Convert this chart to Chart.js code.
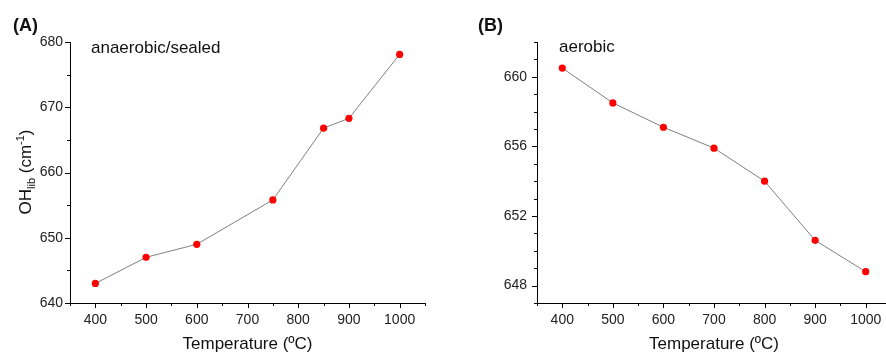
<!DOCTYPE html>
<html>
<head>
<meta charset="utf-8">
<script src="https://cdn.jsdelivr.net/npm/chart.js@4.4.1/dist/chart.umd.min.js"></script>
<style>
  html, body { margin: 0; padding: 0; overflow: hidden; background: #fff; width: 886px; height: 352px; }
  canvas { position: absolute; top: 0; }
  #chartA { left: 0; }
  #chartB { left: 450px; }
</style>
</head>
<body>
<canvas id="chartA" width="450" height="352"></canvas>
<canvas id="chartB" width="450" height="352"></canvas>
<script>
// values
const tempsA = [400, 500, 600, 750, 850, 900, 1000];
const ohA = [643.0, 647.0, 649.0, 655.8, 666.8, 668.3, 678.1];

const tempsB = [400, 500, 600, 700, 800, 900, 1000];
const ohB = [660.5, 658.5, 657.1, 655.9, 654.0, 650.6, 648.8];

const xTicks = [400, 500, 600, 700, 800, 900, 1000];
const yTicksA = [640, 650, 660, 670, 680];
const yTicksB = [648, 652, 656, 660];

const FONT = "'Liberation Sans', Arial, sans-serif";
Chart.defaults.font.family = FONT;
Chart.defaults.color = "#222";

function toPoints(xs, ys) {
  return xs.map((x, i) => ({ x: x, y: ys[i] }));
}

// outward major/minor tick marks, Origin style
const axisTicks = {
  id: "axisTicks",
  afterDraw(chart, args, opts) {
    const ctx = chart.ctx;
    const area = chart.chartArea;
    ctx.save();
    ctx.strokeStyle = "#000";
    ctx.lineWidth = 1;
    ctx.beginPath();
    ["x", "y"].forEach((id) => {
      const scale = chart.scales[id];
      const o = opts[id];
      for (let v = scale.min; v <= scale.max + 1e-9; v += o.step) {
        const len = Math.abs(v % o.major) < 1e-9 ? 5 : 3;
        const p = Math.round(scale.getPixelForValue(v)) + 0.5;
        if (id === "x") {
          ctx.moveTo(p, area.bottom);
          ctx.lineTo(p, area.bottom + len);
        } else {
          ctx.moveTo(area.left, p);
          ctx.lineTo(area.left - len, p);
        }
      }
    });
    ctx.stroke();
    ctx.restore();
  },
};

// free text (panel letters, annotations, rich y title)
const texts = {
  id: "texts",
  afterDraw(chart, args, opts) {
    const ctx = chart.ctx;
    ctx.save();
    ctx.fillStyle = "#111";
    ctx.textBaseline = "alphabetic";
    (opts.items || []).forEach((t) => {
      ctx.font = t.font;
      ctx.fillText(t.text, t.x, t.y);
    });
    if (opts.yTitle) {
      const yt = opts.yTitle;
      ctx.translate(yt.x, yt.y);
      ctx.rotate(-Math.PI / 2);
      let total = 0;
      yt.parts.forEach((p) => {
        ctx.font = p.size + "px " + FONT;
        p.w = ctx.measureText(p.text).width;
        total += p.w;
      });
      let cx = -total / 2;
      yt.parts.forEach((p) => {
        ctx.font = p.size + "px " + FONT;
        ctx.fillText(p.text, cx, p.dy || 0);
        cx += p.w;
      });
    }
    ctx.restore();
  },
};

function makeChart(id, xs, ys, yMin, yMax, yStep, yMajor, yLabels, yWidth, yPad, padRight, textOpts) {
  return new Chart(document.getElementById(id), {
    type: "scatter",
    data: {
      datasets: [
        {
          data: toPoints(xs, ys),
          showLine: true,
          borderColor: "#7f7f7f",
          borderWidth: 1,
          pointRadius: 3.6,
          pointBackgroundColor: "#ff0000",
          pointBorderColor: "#ff0000",
          pointBorderWidth: 0,
        },
      ],
    },
    options: {
      responsive: false,
      animation: false,
      events: [],
      layout: { padding: { left: 0, right: padRight, top: 42, bottom: 0 } },
      plugins: {
        legend: { display: false },
        tooltip: { enabled: false },
        axisTicks: { x: { step: 50, major: 100 }, y: { step: yStep, major: yMajor } },
        texts: textOpts,
      },
      scales: {
        x: {
          type: "linear",
          min: 350,
          max: 1050,
          grid: { display: false, drawTicks: false },
          border: { display: true, color: "#000", width: 1 },
          ticks: {
            stepSize: 50,
            padding: 9,
            font: { size: 14 },
            color: "#222",
            callback: (v) => (xTicks.includes(v) ? String(v) : ""),
            maxRotation: 0,
            autoSkip: false,
          },
          title: {
            display: true,
            text: "Temperature (ºC)",
            font: { size: 17 },
            color: "#111",
            padding: { top: 0, bottom: -3 },
          },
          afterFit: (s) => { s.height = 49; },
        },
        y: {
          type: "linear",
          min: yMin,
          max: yMax,
          grid: { display: false, drawTicks: false },
          border: { display: true, color: "#000", width: 1 },
          ticks: {
            stepSize: yStep,
            padding: yPad,
            font: { size: 14 },
            color: "#222",
            callback: (v) => (yLabels.includes(v) ? String(v) : ""),
            autoSkip: false,
          },
          afterFit: (s) => { s.width = yWidth; },
        },
      },
    },
    plugins: [axisTicks, texts],
  });
}

makeChart("chartA", tempsA, ohA, 640, 680, 5, 10, yTicksA, 70, 7, 25, {
  items: [
    { text: "(A)", x: 13, y: 31, font: "bold 18px " + FONT },
    { text: "anaerobic/sealed", x: 91, y: 53, font: "17px " + FONT },
  ],
  yTitle: {
    x: 31,
    y: 172,
    parts: [
      { text: "OH", size: 17 },
      { text: "lib", size: 11, dy: 4 },
      { text: " (cm", size: 17 },
      { text: "-1", size: 11, dy: -7 },
      { text: ")", size: 17 },
    ],
  },
});

makeChart("chartB", tempsB, ohB, 647, 662, 1, 4, yTicksB, 87, 10, 7, {
  items: [
    { text: "(B)", x: 28, y: 31, font: "bold 18px " + FONT },
    { text: "aerobic", x: 109, y: 52, font: "17px " + FONT },
  ],
});
</script>
</body>
</html>
